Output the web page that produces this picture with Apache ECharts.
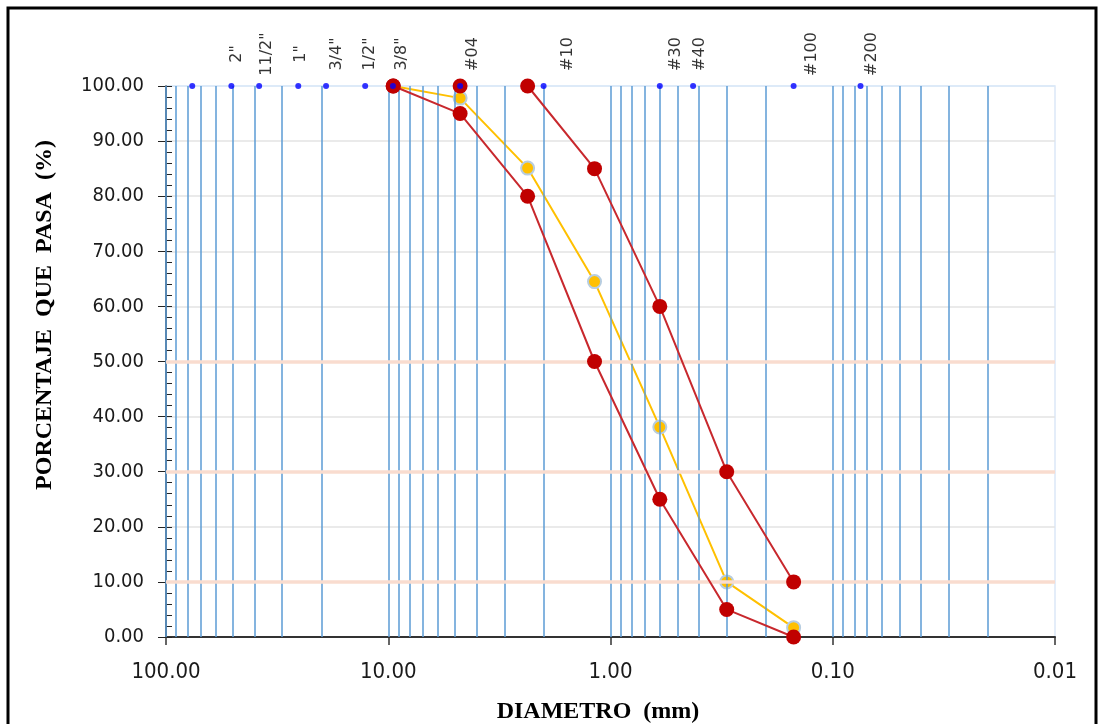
<!DOCTYPE html>
<html>
<head>
<meta charset="utf-8">
<script src="https://cdn.jsdelivr.net/npm/echarts@6/dist/echarts.min.js"></script>
<style>
html,body{margin:0;padding:0;background:#fff;}
#chart{width:1100px;height:724px;}
</style>
</head>
<body>
<div id="chart"></div>
<script>
// ---- data ----
const sieveSizes  = [76.2, 50.8, 38.1, 25.4, 19.05, 12.7, 9.525, 4.75, 2.0, 0.6, 0.425, 0.15, 0.075];
const sieveLabels = ['', '2"', '11/2"', '1"', '3/4"', '1/2"', '3/8"', '#04', '#10', '#30', '#40', '#100', '#200'];

const diameters  = [9.5, 4.75, 2.36, 1.18, 0.6, 0.3, 0.15];
const upperLimit = [100, 100, 100, 85, 60, 30, 10];
const lowerLimit = [100, 95, 80, 50, 25, 5, 0];
const gradation  = [100, 97.8, 85.1, 64.5, 38.1, 10.0, 1.7];

const logGridValues = [100, 90, 80, 70, 60, 50, 40, 30, 20,
                       10, 9, 8, 7, 6, 5, 4, 3, 2,
                       1, 0.9, 0.8, 0.7, 0.6, 0.5, 0.4, 0.3, 0.2,
                       0.1, 0.09, 0.08, 0.07, 0.06, 0.05, 0.04, 0.03, 0.02];
const limitLines = [10, 30, 50];

// ---- style / layout helpers (not data) ----
const labelNudge = [0, 5, 8, 3, 11, 5, 9, 13, 24, 16, 7, 18, 11];
const upperLineFrom = 2; // upper-limit line is only drawn from this index on

const RED = '#c00000';
const chart = echarts.init(document.getElementById('chart'));

const upperData = [];
diameters.forEach((d, i) => {
  upperData.push([d, upperLimit[i]]);
  if (i < upperLineFrom) upperData.push([d, '-']);
});

const option = {
  backgroundColor: '#ffffff',
  animation: false,
  grid: {left: 166, right: 45, top: 86, bottom: 87, show: true,
         borderColor: '#dbe8f7', borderWidth: 1.5, backgroundColor: 'transparent'},
  xAxis: {
    type: 'log', logBase: 10, min: 0.01, max: 100, inverse: true,
    axisLine: {onZero: false, lineStyle: {color: '#333', width: 2}},
    axisTick: {show: true, length: 8, lineStyle: {color: '#333', width: 1.5}},
    splitLine: {show: false},
    axisLabel: {color: '#1a1a1a', fontSize: 22, margin: 24,
      fontFamily: '"DejaVu Sans Condensed","DejaVu Sans",sans-serif',
      formatter: v => Number(v).toFixed(2)}
  },
  yAxis: [{
    type: 'value', min: 0, max: 100, interval: 10,
    axisLine: {show: true, lineStyle: {color: '#222', width: 1.5}},
    axisTick: {show: true, inside: true, length: 6, lineStyle: {color: '#222'}},
    minorTick: {show: true, splitNumber: 5, length: 6, lineStyle: {color: '#222'}},
    splitLine: {show: true, lineStyle: {width: 1.5,
      color: ['#e3e3e3','#e3e3e3','#e3e3e3','#e3e3e3','#e3e3e3','#e3e3e3','#e3e3e3','#e3e3e3','#e3e3e3','#e3e3e3','#dbe8f7']}},
    axisLabel: {color: '#1a1a1a', fontSize: 20, margin: 22,
      fontFamily: '"DejaVu Sans Condensed","DejaVu Sans",sans-serif',
      formatter: v => Number(v).toFixed(2)}
  }, {
    type: 'value', min: 0, max: 100, interval: 10, position: 'left',
    axisLine: {show: false}, axisLabel: {show: false}, splitLine: {show: false},
    axisTick: {show: true, inside: false, length: 8, lineStyle: {color: '#222'}}
  }],
  graphic: [
    {type: 'rect', shape: {x: 8, y: 8, width: 1088, height: 740},
     style: {fill: 'none', stroke: '#000', lineWidth: 3}, z: 100, silent: true},
    {type: 'text', x: 45, y: 315, rotation: Math.PI / 2,
     style: {text: 'PORCENTAJE  QUE  PASA  (%)', fill: '#000', align: 'center', verticalAlign: 'middle',
             font: 'bold 24px "Liberation Serif", "DejaVu Serif", serif'}},
    {type: 'text', x: 598, y: 712,
     style: {text: 'DIAMETRO  (mm)', fill: '#000', align: 'center', verticalAlign: 'middle',
             font: 'bold 24px "Liberation Serif", "DejaVu Serif", serif'}}
  ],
  series: [
    {
      name: 'grid-log', type: 'line', data: [], z: 1, silent: true,
      markLine: {silent: true, symbol: ['none', 'none'], label: {show: false},
        lineStyle: {color: '#5b9bd5', width: 1.5, type: 'solid'},
        emphasis: {disabled: true},
        data: logGridValues.map(v => ({xAxis: v}))}
    },
    {
      name: 'limits', type: 'line', data: [], z: 2, silent: true,
      markLine: {silent: true, symbol: ['none', 'none'], label: {show: false},
        lineStyle: {color: '#f9dccf', width: 3.5, type: 'solid'},
        emphasis: {disabled: true},
        data: limitLines.map(v => ({yAxis: v}))}
    },
    {
      name: 'Granulometría', type: 'line', z: 4, clip: false,
      data: diameters.map((d, i) => [d, gradation[i]]),
      symbol: 'circle', symbolSize: 13,
      itemStyle: {color: '#ffc000', borderColor: '#b7cde0', borderWidth: 2},
      lineStyle: {color: '#ffc000', width: 2}
    },
    {
      name: 'Límite inferior', type: 'line', z: 5, clip: false,
      data: diameters.map((d, i) => [d, lowerLimit[i]]),
      symbol: 'circle', symbolSize: 15,
      itemStyle: {color: RED},
      lineStyle: {color: '#c8282d', width: 2}
    },
    {
      name: 'Límite superior', type: 'line', z: 5, clip: false,
      data: upperData, connectNulls: false,
      symbol: 'circle', symbolSize: 15,
      itemStyle: {color: RED},
      lineStyle: {color: '#c8282d', width: 2}
    },
    {
      name: 'Tamices', type: 'scatter', z: 10, clip: false,
      symbol: 'circle', symbolSize: 6,
      itemStyle: {color: '#0000ff'},
      data: sieveSizes.map((s, i) => ({
        value: [s, 100],
        label: {position: [labelNudge[i] + 3, -29]}
      })),
      label: {show: true, rotate: 90, align: 'center', verticalAlign: 'middle',
        color: '#000', fontSize: 16, fontFamily: '"DejaVu Sans",sans-serif',
        formatter: p => sieveLabels[p.dataIndex]}
    }
  ]
};
chart.setOption(option);
</script>
</body>
</html>
